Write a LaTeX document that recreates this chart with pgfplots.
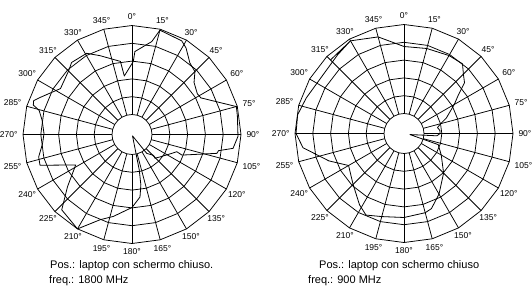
\documentclass[border=0pt]{standalone}
\usepackage{fontspec}
\setmainfont{Liberation Sans}
\usepackage{pgfplots}
\usepackage{pgfplotstable}
\pgfplotsset{compat=1.18}
\usepgfplotslibrary{polar}

% ring radii (pt from centre): inner hole ring ... outer ring
\pgfplotstableread{
a   r0  r1    r2    r3    r4    r5
0   20  37.8  55.6  73.4  91.2  109
15  20  37.8  55.6  73.4  91.2  109
30  20  37.8  55.6  73.4  91.2  109
45  20  37.8  55.6  73.4  91.2  109
60  20  37.8  55.6  73.4  91.2  109
75  20  37.8  55.6  73.4  91.2  109
90  20  37.8  55.6  73.4  91.2  109
105 20  37.8  55.6  73.4  91.2  109
120 20  37.8  55.6  73.4  91.2  109
135 20  37.8  55.6  73.4  91.2  109
150 20  37.8  55.6  73.4  91.2  109
165 20  37.8  55.6  73.4  91.2  109
180 20  37.8  55.6  73.4  91.2  109
195 20  37.8  55.6  73.4  91.2  109
210 20  37.8  55.6  73.4  91.2  109
225 20  37.8  55.6  73.4  91.2  109
240 20  37.8  55.6  73.4  91.2  109
255 20  37.8  55.6  73.4  91.2  109
270 20  37.8  55.6  73.4  91.2  109
285 20  37.8  55.6  73.4  91.2  109
300 20  37.8  55.6  73.4  91.2  109
315 20  37.8  55.6  73.4  91.2  109
330 20  37.8  55.6  73.4  91.2  109
345 20  37.8  55.6  73.4  91.2  109
360 20  37.8  55.6  73.4  91.2  109
}\ringtable

% 1800 MHz pattern (angle clockwise from top, radius)
\pgfplotstableread{
t     r
1     73
2     83
12    95
15    108
25    106
28    106
32    102
39    92
45    89
50    81
58    77
62    78
75    108
80    107
91    106
97.8  102
100.6 88
102.5 87
112.4 54
111   48
115.4 44
128.4 36
136   33
134   30
142   24
160   1.5
168.4 36
170   51
172.7 63
180   73
192.8 84
200.5 91
210   109
223   103
231   83
241.6 64
251.5 97
256.5 96
264   90
270.6 88
279   91
284.6 96
286.6 103
289   104
292   99
302.7 85
315.4 90
320   94
330.8 93
338   85
351   74
352.5 59
361   73
}\patternA

% 900 MHz pattern
\pgfplotstableread{
t     r
-45   104
-30   107
-15   100
0     87
15    88
30    90
40    91
45    84
50    79
55    66
60    58
70    45
75    38
80    34
85    36
90    36
94    33
100   6
108   36
120   43
135   56
150   70
160   80
165   82
180   84
195   86
205   90
212   84
225   72
240   64
250   80
262   102
270   108
280   108
290   104
305   100
320   103
330   107
}\patternB

\pgfplotsset{
  chartpolar/.style={
    hide axis, clip=false,
    scale only axis, width=218pt, height=218pt,
    ymin=0, ymax=109,
    anchor=origin,
    x coord trafo/.code={\pgfmathparse{90-##1}},
  },
  gridline/.style={black, line width=0.75pt, mark=none},
  curve/.style={black, line width=0.8pt, mark=none, line join=round},
}
\tikzset{anglab/.style={font=\fontsize{8.5}{10}\selectfont, inner sep=0.3pt}}

\newcommand{\polargrid}{%
  \addplot[gridline] table[x=a,y=r0] {\ringtable};
  \addplot[gridline] table[x=a,y=r1] {\ringtable};
  \addplot[gridline] table[x=a,y=r2] {\ringtable};
  \addplot[gridline] table[x=a,y=r3] {\ringtable};
  \addplot[gridline] table[x=a,y=r4] {\ringtable};
  \addplot[gridline] table[x=a,y=r5] {\ringtable};
  \pgfplotsinvokeforeach{0,15,...,345}{%
    \addplot[gridline] coordinates {(##1,20) (##1,109)};
  }%
  \foreach \c/\an in {0/270,15/255,30/240,45/225,60/210,75/195,90/180,105/165,
      120/150,135/135,150/120,165/105,180/90,195/75,210/60,225/45,240/30,
      255/15,270/0,285/345,300/330,315/315,330/300,345/285}{%
    \edef\temp{\noexpand\node[anglab,anchor=\an] at (axis cs:\c,114) {\c°};}\temp
  }%
}

\begin{document}
\begin{tikzpicture}[x=1pt,y=1pt]
\useasboundingbox (0,0) rectangle (532,287);

\begin{polaraxis}[chartpolar, at={(132pt,152.5pt)}]
  \polargrid
  \addplot[curve] table[x=t,y=r] {\patternA};
\end{polaraxis}

\begin{polaraxis}[chartpolar, at={(404pt,153.5pt)}]
  \polargrid
  \addplot[curve] table[x=t,y=r] {\patternB};
\end{polaraxis}

\node[anchor=base west, font=\fontsize{11}{13}\selectfont, inner sep=0pt] at (50,19) {Pos.: laptop con schermo chiuso.};
\node[anchor=base west, font=\fontsize{11}{13}\selectfont, inner sep=0pt] at (49,4) {freq.: 1800 MHz};
\node[anchor=base west, font=\fontsize{11}{13}\selectfont, inner sep=0pt] at (319,19) {Pos.: laptop con schermo chiuso};
\node[anchor=base west, font=\fontsize{11}{13}\selectfont, inner sep=0pt] at (308,4) {freq.: 900 MHz};
\end{tikzpicture}
\end{document}
